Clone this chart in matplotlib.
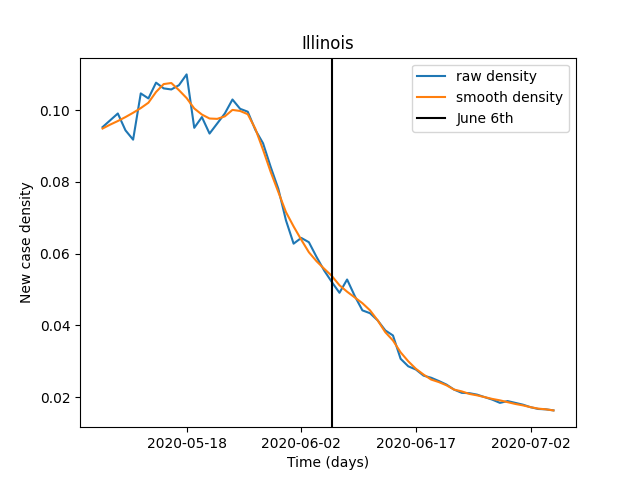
import numpy as np
import pandas as pd
import matplotlib
matplotlib.use('Agg')
import matplotlib.pyplot as plt
import matplotlib.dates as mdates

# daily values, 2020-05-07 .. 2020-07-05
dates = pd.date_range('2020-05-07', '2020-07-05', freq='D')

raw_density = [0.0953, 0.0972, 0.0991, 0.0944, 0.0918, 0.1047, 0.1033, 0.1077, 0.1061, 0.1058,
               0.1070, 0.1100, 0.0951, 0.0981, 0.0935, 0.0963, 0.0991, 0.1030, 0.1004, 0.0996,
               0.0945, 0.0908, 0.0842, 0.0781, 0.0693, 0.0628, 0.0644, 0.0632, 0.0591, 0.0553,
               0.0521, 0.0491, 0.0528, 0.0482, 0.0442, 0.0434, 0.0414, 0.0386, 0.0372, 0.0307,
               0.0286, 0.0277, 0.0260, 0.0254, 0.0245, 0.0235, 0.0221, 0.0212, 0.0211, 0.0207,
               0.0200, 0.0193, 0.0184, 0.0189, 0.0184, 0.0179, 0.0172, 0.0167, 0.0166, 0.0163]

smooth_density = [0.0949, 0.0960, 0.0970, 0.0981, 0.0993, 0.1006, 0.1021, 0.1051, 0.1073, 0.1076,
                  0.1056, 0.1034, 0.1005, 0.0988, 0.0977, 0.0976, 0.0983, 0.1001, 0.0998, 0.0989,
                  0.0948, 0.0890, 0.0828, 0.0772, 0.0716, 0.0676, 0.0639, 0.0604, 0.0579, 0.0558,
                  0.0538, 0.0512, 0.0494, 0.0478, 0.0462, 0.0442, 0.0414, 0.0381, 0.0358, 0.0325,
                  0.0300, 0.0279, 0.0263, 0.0249, 0.0242, 0.0233, 0.0221, 0.0216, 0.0209, 0.0205,
                  0.0200, 0.0195, 0.0191, 0.0186, 0.0181, 0.0177, 0.0172, 0.0168, 0.0166, 0.0163]

june6 = pd.Timestamp('2020-06-06')
tick_dates = pd.to_datetime(['2020-05-18', '2020-06-02', '2020-06-17', '2020-07-02'])

fig, ax = plt.subplots(figsize=(6.4, 4.8), dpi=100)
ax.plot(dates, raw_density, label='raw density')
ax.plot(dates, smooth_density, label='smooth density')
ax.axvline(june6, color='black', label='June 6th')

ax.set_xticks(tick_dates)
ax.xaxis.set_major_formatter(mdates.DateFormatter('%Y-%m-%d'))
ax.set_title('Illinois')
ax.set_xlabel('Time (days)')
ax.set_ylabel('New case density')
ax.legend(loc='upper right')

plt.savefig('out.png')
